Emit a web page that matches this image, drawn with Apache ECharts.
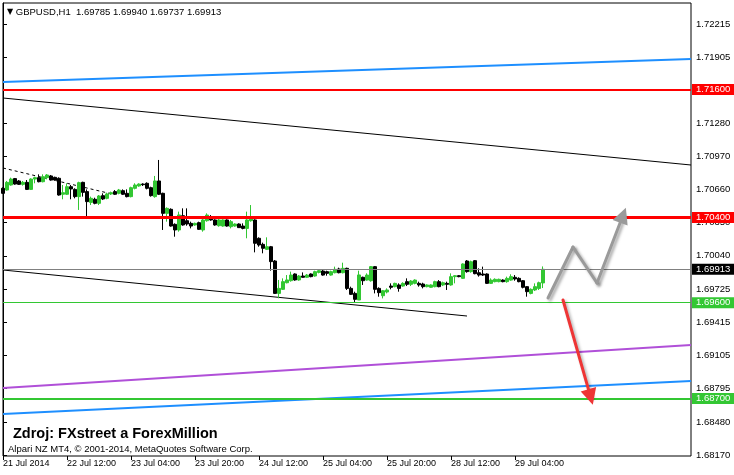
<!DOCTYPE html>
<html><head><meta charset="utf-8">
<script src="https://cdn.jsdelivr.net/npm/echarts@6/dist/echarts.min.js"></script>
<style>html,body{margin:0;padding:0;background:#fff}#c{width:734px;height:475px}</style>
</head><body><div id="c"></div>
<script>
// ---- header / texts ----
const symbolInfo = 'GBPUSD,H1';
const lastBarValues = ['1.69785', '1.69940', '1.69737', '1.69913'];
const sourceText = 'Zdroj: FXstreet a ForexMillion';
const copyrightText = 'Alpari NZ MT4, \u00a9 2001-2014, MetaQuotes Software Corp.';

// ---- x axis: one label every 16 hourly bars ----
const xTickLabels = ['21 Jul 2014', '22 Jul 12:00', '23 Jul 04:00', '23 Jul 20:00', '24 Jul 12:00',
  '25 Jul 04:00', '25 Jul 20:00', '28 Jul 12:00', '29 Jul 04:00'];
const barsPerLabel = 16;
const emptyFutureBars = 37;

// ---- y axis tick labels ----
const yTickValues = [1.72215, 1.71905, 1.71595, 1.71280, 1.70970, 1.70660, 1.70350, 1.70040,
  1.69725, 1.69415, 1.69105, 1.68795, 1.68480, 1.68170];
const yMin = 1.68161, yMax = 1.72412;

// ---- H1 candles: [open, high, low, close] ----
const ohlc = [
[1.70673,1.70682,1.70620,1.70626],[1.70657,1.70742,1.70651,1.70729],[1.70704,1.70773,1.70698,1.70760],
[1.70764,1.70770,1.70707,1.70713],[1.70742,1.70751,1.70704,1.70710],[1.70710,1.70742,1.70698,1.70729],
[1.70729,1.70751,1.70657,1.70663],[1.70663,1.70767,1.70657,1.70760],[1.70760,1.70782,1.70720,1.70773],
[1.70773,1.70804,1.70729,1.70735],[1.70735,1.70804,1.70729,1.70782],[1.70773,1.70807,1.70757,1.70798],
[1.70789,1.70798,1.70745,1.70751],[1.70776,1.70782,1.70745,1.70751],[1.70767,1.70776,1.70604,1.70610],
[1.70617,1.70704,1.70570,1.70632],[1.70617,1.70720,1.70610,1.70688],[1.70688,1.70704,1.70570,1.70667],
[1.70663,1.70673,1.70579,1.70595],[1.70595,1.70735,1.70470,1.70726],[1.70729,1.70735,1.70595,1.70635],
[1.70642,1.70663,1.70407,1.70548],[1.70541,1.70595,1.70516,1.70579],[1.70570,1.70585,1.70523,1.70532],
[1.70532,1.70610,1.70516,1.70601],[1.70604,1.70626,1.70563,1.70573],[1.70579,1.70632,1.70570,1.70620],
[1.70620,1.70642,1.70610,1.70632],[1.70642,1.70657,1.70610,1.70617],[1.70626,1.70667,1.70617,1.70657],
[1.70651,1.70663,1.70610,1.70617],[1.70626,1.70663,1.70588,1.70595],[1.70595,1.70688,1.70588,1.70679],
[1.70673,1.70720,1.70663,1.70704],[1.70695,1.70720,1.70688,1.70713],[1.70713,1.70720,1.70695,1.70707],
[1.70720,1.70729,1.70663,1.70673],[1.70679,1.70688,1.70595,1.70604],[1.70595,1.70789,1.70585,1.70742],
[1.70742,1.70939,1.70610,1.70617],[1.70626,1.70632,1.70282,1.70438],[1.70438,1.70494,1.70360,1.70485],
[1.70476,1.70485,1.70313,1.70319],[1.70335,1.70344,1.70219,1.70282],[1.70282,1.70454,1.70266,1.70423],
[1.70416,1.70485,1.70322,1.70329],[1.70369,1.70485,1.70322,1.70338],[1.70344,1.70360,1.70297,1.70319],
[1.70329,1.70351,1.70322,1.70344],[1.70351,1.70360,1.70282,1.70288],[1.70282,1.70391,1.70266,1.70376],
[1.70369,1.70438,1.70360,1.70422],[1.70407,1.70422,1.70369,1.70376],[1.70376,1.70382,1.70322,1.70329],
[1.70322,1.70407,1.70313,1.70376],[1.70319,1.70382,1.70313,1.70376],[1.70376,1.70382,1.70313,1.70319],
[1.70313,1.70376,1.70297,1.70360],[1.70319,1.70344,1.70313,1.70338],[1.70338,1.70344,1.70304,1.70304],
[1.70319,1.70344,1.70288,1.70297],[1.70297,1.70454,1.70204,1.70376],[1.70369,1.70516,1.70360,1.70407],
[1.70376,1.70382,1.70072,1.70157],[1.70204,1.70213,1.70125,1.70141],[1.70147,1.70163,1.70063,1.70110],
[1.70100,1.70213,1.70094,1.70125],[1.70125,1.70132,1.69900,1.69985],[1.69991,1.70000,1.69681,1.69687],
[1.69687,1.69813,1.69641,1.69734],[1.69725,1.69828,1.69719,1.69797],[1.69787,1.69859,1.69781,1.69813],
[1.69806,1.69891,1.69797,1.69859],[1.69869,1.69875,1.69806,1.69813],[1.69813,1.69859,1.69806,1.69850],
[1.69850,1.69884,1.69834,1.69838],[1.69838,1.69869,1.69831,1.69859],[1.69869,1.69875,1.69838,1.69844],
[1.69850,1.69900,1.69844,1.69891],[1.69884,1.69913,1.69875,1.69900],[1.69897,1.69906,1.69853,1.69859],
[1.69891,1.69900,1.69853,1.69875],[1.69859,1.69900,1.69853,1.69891],[1.69881,1.69938,1.69875,1.69913],
[1.69916,1.69928,1.69875,1.69881],[1.69881,1.69975,1.69875,1.69922],[1.69922,1.69928,1.69719,1.69734],
[1.69734,1.69750,1.69672,1.69678],[1.69687,1.69703,1.69603,1.69631],[1.69625,1.69900,1.69625,1.69860],
[1.69838,1.69844,1.69766,1.69806],[1.69812,1.69875,1.69806,1.69859],[1.69806,1.69944,1.69797,1.69938],
[1.69938,1.69944,1.69687,1.69725],[1.69734,1.69744,1.69656,1.69694],[1.69665,1.69719,1.69640,1.69712],
[1.69700,1.69734,1.69687,1.69719],[1.69756,1.69781,1.69725,1.69744],[1.69750,1.69787,1.69744,1.69781],
[1.69766,1.69781,1.69703,1.69734],[1.69756,1.69791,1.69750,1.69781],[1.69797,1.69828,1.69756,1.69772],
[1.69772,1.69812,1.69756,1.69803],[1.69781,1.69819,1.69772,1.69812],[1.69781,1.69797,1.69750,1.69766],
[1.69775,1.69787,1.69734,1.69750],[1.69750,1.69772,1.69744,1.69766],[1.69744,1.69772,1.69740,1.69766],
[1.69750,1.69806,1.69744,1.69797],[1.69797,1.69812,1.69744,1.69750],[1.69766,1.69797,1.69756,1.69787],
[1.69781,1.69797,1.69719,1.69772],[1.69766,1.69875,1.69759,1.69844],[1.69844,1.69859,1.69781,1.69853],
[1.69853,1.69859,1.69838,1.69844],[1.69828,1.69969,1.69822,1.69963],[1.69991,1.70000,1.69881,1.69891],
[1.69891,1.69994,1.69881,1.69984],[1.69994,1.70000,1.69866,1.69872],[1.69881,1.69922,1.69844,1.69859],
[1.69869,1.69938,1.69850,1.69859],[1.69869,1.69875,1.69775,1.69781],[1.69781,1.69828,1.69775,1.69812],
[1.69797,1.69828,1.69791,1.69819],[1.69797,1.69825,1.69791,1.69819],[1.69812,1.69819,1.69791,1.69797],
[1.69797,1.69844,1.69787,1.69828],[1.69812,1.69866,1.69806,1.69844],[1.69838,1.69859,1.69806,1.69822],
[1.69828,1.69838,1.69791,1.69797],[1.69806,1.69812,1.69734,1.69744],[1.69750,1.69756,1.69656,1.69703],
[1.69687,1.69734,1.69678,1.69725],[1.69719,1.69781,1.69709,1.69750],[1.69734,1.69797,1.69719,1.69787],
[1.69785,1.69940,1.69737,1.69913]
];

// ---- horizontal levels ----
const levelValues = [1.71600, 1.70400, 1.69913, 1.69600, 1.68700];
const levelColors = ['#ff0000', '#ff0000', '#808080', '#33c733', '#33c733'];
const levelWidths = [2, 3, 1, 1, 2];
const levelLabelBg = ['#ff0000', '#ff0000', '#000000', '#33c733', '#33c733'];

// ---- trend lines: [barIndex, price] ----
const channelBlueTop = [[0, 1.716706], [172, 1.718865]];
const trendBlackUpper = [[0, 1.715205], [172, 1.708917]];
const trendBlackLower = [[0, 1.699063], [116, 1.694745]];
const trendDashed = [[0, 1.708636], [27.25, 1.706196]];
const channelPurple = [[0, 1.687989], [172, 1.692024]];
const channelBlueBottom = [[0, 1.685548], [172, 1.688645]];
const arrowUpPath = [[136.25, 1.696435], [142.5, 1.701221], [148.5, 1.697843], [155.0, 1.704200]];
const arrowDownPath = [[140, 1.696247], [146.9, 1.687150]];

const FONT = 'Liberation Sans';
const totalBars = ohlc.length + emptyFutureBars;
const categories = [];
for (let i = 0; i < totalBars; i++) categories.push(String(i));
const candleData = ohlc.map(r => [r[0], r[3], r[2], r[1]]);
const lastTickIdx = (xTickLabels.length - 1) * barsPerLabel;

function lineSeries(data, color, width, type) {
  return {
    type: 'line', xAxisIndex: 1, yAxisIndex: 0, data: data, showSymbol: false, symbol: 'none',
    silent: true, z: 1,
    lineStyle: { color: color, width: width, type: type || 'solid' }
  };
}

// arrow drawn as plain segments (all but last) + last segment with arrow head
function arrowSeries(path, color, shadow) {
  const segs = [];
  for (let i = 0; i < path.length - 1; i++) segs.push(path.slice(i, i + 2));
  const style = { color: color, width: 3, opacity: 1, shadowBlur: 3, shadowColor: shadow,
    shadowOffsetX: 2, shadowOffsetY: 2, cap: 'round', join: 'round' };
  return [
    {
      type: 'lines', coordinateSystem: 'cartesian2d', xAxisIndex: 1, yAxisIndex: 0, polyline: false,
      symbol: 'none', silent: true, z: 5, lineStyle: style,
      data: segs.slice(0, -1).map(s => ({ coords: s }))
    },
    {
      type: 'lines', coordinateSystem: 'cartesian2d', xAxisIndex: 1, yAxisIndex: 0, polyline: false,
      symbol: ['none', 'triangle'], symbolSize: [13, 16], silent: true, z: 6, lineStyle: style,
      data: [{ coords: segs[segs.length - 1] }]
    }
  ];
}

const chart = echarts.init(document.getElementById('c'), null, { renderer: 'canvas' });
chart.setOption({
  animation: false,
  backgroundColor: '#ffffff',
  title: [
    {
      left: 2, top: 2,
      text: '{t|\u25BC} ' + symbolInfo + '  ' + lastBarValues.join(' '),
      textStyle: { fontFamily: FONT, fontSize: 9.5, fontWeight: 'normal', color: '#000',
        rich: { t: { fontFamily: 'DejaVu Sans', fontSize: 8, color: '#000' } } }
    },
    {
      left: 8, top: 421, text: sourceText,
      textStyle: { fontFamily: FONT, fontSize: 14.5, fontWeight: 'bold', color: '#000' }
    },
    {
      left: 3, top: 439, text: copyrightText,
      textStyle: { fontFamily: FONT, fontSize: 9.5, fontWeight: 'normal', color: '#000' }
    }
  ],
  grid: { left: 3, top: 3, right: 43, bottom: 19, show: true, borderColor: '#000', borderWidth: 1,
    backgroundColor: 'transparent' },
  xAxis: [
    {
      type: 'category', data: categories, boundaryGap: false, position: 'bottom',
      axisLine: { show: false },
      axisTick: { show: true, length: 4, lineStyle: { color: '#000' },
        interval: (idx) => idx % barsPerLabel === 0 && idx <= lastTickIdx },
      axisLabel: { show: true, align: 'left', margin: 3, fontFamily: FONT, fontSize: 9, color: '#000',
        interval: (idx) => idx % barsPerLabel === 0 && idx <= lastTickIdx,
        formatter: (v, idx) => xTickLabels[idx / barsPerLabel] || '' },
      splitLine: { show: false }
    },
    { type: 'value', min: 0, max: totalBars - 1, show: false }
  ],
  yAxis: [{
    type: 'value', position: 'right', min: yMin, max: yMax, scale: true,
    axisLine: { show: true, lineStyle: { color: '#000' } },
    axisTick: { show: true, length: 4, lineStyle: { color: '#000' }, customValues: yTickValues },
    axisLabel: { show: true, margin: 5, fontFamily: FONT, fontSize: 9.5, color: '#000',
      customValues: yTickValues, formatter: v => v.toFixed(5) },
    splitLine: { show: false }
  }],
  series: [
    lineSeries(channelBlueTop, '#1e8fff', 2),
    lineSeries(trendBlackUpper, '#000000', 1),
    lineSeries(trendBlackLower, '#000000', 1),
    lineSeries(trendDashed, '#000000', 1, [3, 3]),
    lineSeries(channelPurple, '#b050d8', 2),
    lineSeries(channelBlueBottom, '#1e8fff', 2),
    {
      type: 'candlestick', xAxisIndex: 0, yAxisIndex: 0, data: candleData, barWidth: 3, z: 3,
      itemStyle: { color: '#33c733', color0: '#000000', borderColor: '#33c733', borderColor0: '#000000',
        borderWidth: 1 },
      markLine: {
        silent: true, symbol: 'none', precision: 5, animation: false,
        data: levelValues.map((v, i) => ({
          yAxis: v,
          lineStyle: { color: levelColors[i], width: levelWidths[i], type: 'solid' },
          label: { show: true, position: 'end', distance: 1, formatter: v.toFixed(5),
            fontFamily: FONT, fontSize: 9.5, color: '#fff', backgroundColor: levelLabelBg[i],
            padding: [1, 5, 0, 4] }
        }))
      }
    }
  ].concat(arrowSeries(arrowUpPath, '#9a9a9a', 'rgba(0,0,0,0.35)'))
   .concat(arrowSeries(arrowDownPath, '#ee3535', 'rgba(0,0,0,0.3)'))
});
</script>
</body></html>
